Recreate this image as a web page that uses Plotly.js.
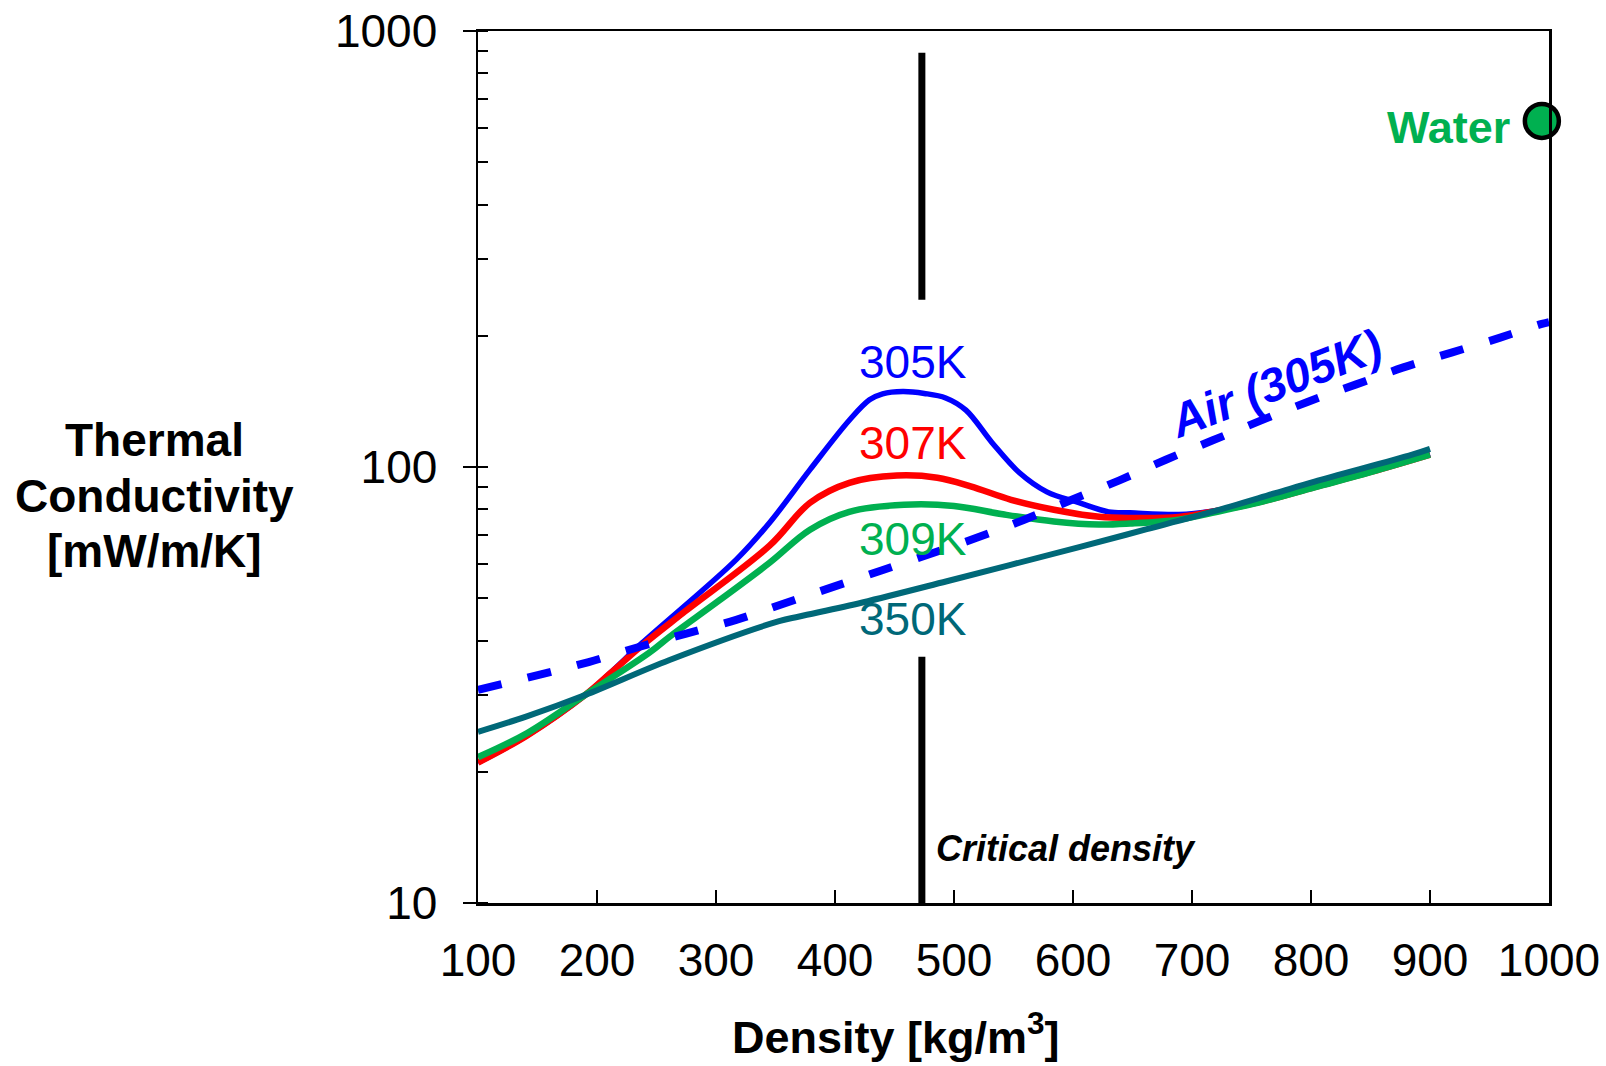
<!DOCTYPE html>
<html>
<head>
<meta charset="utf-8">
<script src="https://cdn.plot.ly/plotly-3.0.1.min.js"></script>
<style>
  html, body { margin: 0; padding: 0; background: #ffffff; }
  #chart { width: 1606px; height: 1066px; }
</style>
</head>
<body>
<div id="chart"></div>
<script>
// ---- Data ----
const x305 = [100, 141, 190, 211, 238, 317, 345, 379, 412, 429, 440, 457, 475, 493, 510, 532, 555, 578, 605, 630, 648, 689, 717, 760, 803, 850, 900];
const k305 = [21.0, 24.2, 30.0, 33.7, 39.5, 61.3, 74.5, 98.6, 128, 142.6, 147.2, 149, 147.5, 144, 135, 113.7, 97, 87.7, 82.8, 78.9, 78.5, 77.8, 79.2, 83.6, 90.0, 97.5, 107];

const x307 = [100, 141, 190, 211, 238, 272, 345, 379, 412, 452, 486, 514, 548, 584, 622, 648, 689, 717, 760, 803, 850, 900];
const k307 = [21.0, 24.2, 30.0, 33.6, 39.0, 46.2, 66.0, 82.8, 92.0, 95.6, 94.5, 90.3, 84.1, 79.8, 76.9, 76.4, 76.8, 79.0, 83.5, 89.9, 97.4, 106.8];

const x309 = [100, 141, 190, 244, 261, 303, 345, 379, 412, 458, 500, 541, 584, 622, 648, 689, 717, 760, 803, 850, 900];
const k309 = [21.6, 24.5, 30.0, 37.5, 40.8, 49.5, 60.3, 71.8, 78.9, 81.9, 81.4, 77.9, 75.0, 73.8, 74.2, 75.7, 78.5, 83.4, 89.8, 97.3, 106.7];

const x350 = [100, 141, 190, 261, 353, 370, 423, 494, 606, 662, 717, 770, 803, 885, 900];
const k350 = [24.7, 26.8, 30.0, 36.1, 44.3, 45.4, 48.9, 54.7, 65.6, 72.0, 79.0, 87.1, 92.6, 106.7, 110];

const xAir = [100, 152, 193, 233, 275, 317, 356, 439, 519, 559, 599, 639, 678, 717, 797, 838, 877, 918, 959, 994, 1000];
const kAir = [30.8, 33.4, 35.7, 38.5, 41.5, 44.6, 48.5, 57.9, 68.8, 75.7, 84.1, 93.2, 103.9, 115, 141, 154.7, 169, 183, 198, 213, 215];

const waterX = [994];
const waterK = [622];

const criticalDensity = 473;
const critX = [criticalDensity, criticalDensity, null, criticalDensity, criticalDensity];
const critK = [891, 242, null, 36.7, 10];

const xTickVals = [100, 200, 300, 400, 500, 600, 700, 800, 900, 1000];
const yTickVals = [10, 100, 1000];
const yTickText = ['10', '100', '1000'];

const seriesLabels = ['305K', '307K', '309K', '350K'];

// ---- Styles ----
const BLUE = '#0000FF', RED = '#FF0000', GREEN = '#00B050', TEAL = '#006878';
const FONT = 'Liberation Sans, Arial, Helvetica, sans-serif';

const traces = [
  {x: x305, y: k305, mode: 'lines', line: {color: BLUE, width: 5.5, shape: 'spline', smoothing: 1}, name: '305K'},
  {x: x307, y: k307, mode: 'lines', line: {color: RED, width: 6.5, shape: 'spline', smoothing: 1}, name: '307K'},
  {x: x309, y: k309, mode: 'lines', line: {color: GREEN, width: 6.5, shape: 'spline', smoothing: 1}, name: '309K'},
  {x: x350, y: k350, mode: 'lines', line: {color: TEAL, width: 6, shape: 'spline', smoothing: 1}, name: '350K'},
  {x: xAir, y: kAir, mode: 'lines', line: {color: BLUE, width: 8, dash: '24px,27px', shape: 'spline', smoothing: 1}, name: 'Air (305K)'},
  {x: critX, y: critK, mode: 'lines', line: {color: '#000000', width: 7}, name: 'Critical density', connectgaps: false},
  {x: waterX, y: waterK, mode: 'markers', marker: {color: GREEN, size: 34, line: {color: '#000000', width: 4.5}}, name: 'Water', cliponaxis: false}
];

const X0 = 478, X1 = 1549, Y0 = 903, Y1 = 31;
const px = v => (v - X0) / (X1 - X0);
const py = v => (Y0 - v) / (Y0 - Y1);

const annotations = [
  {text: seriesLabels[0], x: px(913), y: py(362), font: {color: BLUE, size: 46, family: FONT}},
  {text: seriesLabels[1], x: px(913), y: py(443), font: {color: RED, size: 46, family: FONT}},
  {text: seriesLabels[2], x: px(913), y: py(539), font: {color: GREEN, size: 46, family: FONT}},
  {text: seriesLabels[3], x: px(913), y: py(619), font: {color: TEAL, size: 46, family: FONT}},
  {text: '<b>Water</b>', x: px(1512), y: py(128), xanchor: 'right', font: {color: GREEN, size: 45, family: FONT}},
  {text: '<b><i>Air (305K)</i></b>', x: px(1275), y: py(383), textangle: -21, font: {color: BLUE, size: 47, family: FONT}},
  {text: '<b><i>Critical density</i></b>', x: px(934), y: py(848), xanchor: 'left', font: {color: '#000000', size: 36, family: FONT}},
  {text: '<b>Thermal</b>', x: px(154), y: py(440), font: {color: '#000000', size: 46, family: FONT}},
  {text: '<b>Conductivity</b>', x: px(154), y: py(496), font: {color: '#000000', size: 46, family: FONT}},
  {text: '<b>[mW/m/K]</b>', x: px(154), y: py(551), font: {color: '#000000', size: 46, family: FONT}},
  {text: '<b>Density [kg/m<sup>3</sup>]</b>', x: px(896), y: py(1034), font: {color: '#000000', size: 45, family: FONT}}
].map(a => Object.assign({xref: 'paper', yref: 'paper', showarrow: false, xanchor: 'center', yanchor: 'middle'}, a));

const layout = {
  width: 1606,
  height: 1066,
  margin: {l: X0, r: 1606 - X1, t: Y1, b: 1066 - Y0, pad: 0},
  paper_bgcolor: '#ffffff',
  plot_bgcolor: '#ffffff',
  showlegend: false,
  font: {family: FONT, color: '#000000'},
  xaxis: {
    range: [100, 1000],
    tickvals: xTickVals,
    ticks: 'inside',
    ticklen: 13,
    tickwidth: 2,
    tickcolor: '#000000',
    showline: true,
    linecolor: '#000000',
    linewidth: 2.5,
    mirror: true,
    showgrid: false,
    zeroline: false,
    tickfont: {size: 46, family: FONT, color: '#000000'},
    ticklabelstandoff: 15
  },
  yaxis: {
    type: 'log',
    range: [1, 3],
    tickvals: yTickVals,
    ticktext: yTickText,
    ticks: 'outside',
    ticklen: 13,
    tickwidth: 2,
    tickcolor: '#000000',
    showline: true,
    linecolor: '#000000',
    linewidth: 2.5,
    mirror: true,
    showgrid: false,
    zeroline: false,
    tickfont: {size: 46, family: FONT, color: '#000000'},
    ticklabelstandoff: 16,
    minor: {ticks: 'inside', ticklen: 10, tickwidth: 2, tickcolor: '#000000', dtick: 'D1', showgrid: false}
  },
  annotations: annotations
};

Plotly.newPlot('chart', traces, layout, {staticPlot: true, displayModeBar: false});
</script>
</body>
</html>
